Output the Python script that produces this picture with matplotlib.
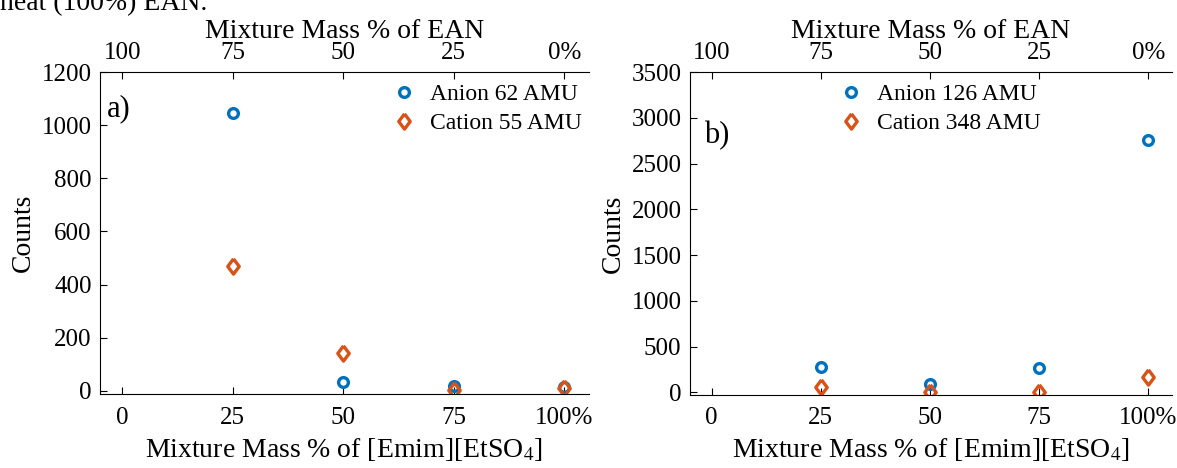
import matplotlib.pyplot as plt

plt.rcParams['font.family'] = ['Liberation Serif', 'DejaVu Serif']
plt.rcParams['mathtext.fontset'] = 'stix'

# mixture mass % of [Emim][EtSO4]
mix = [25, 50, 75, 100]
xticks = [0, 25, 50, 75, 100]
bottom_labels = ['0', '25', '50', '75', '100%']
top_labels = ['100', '75', '50', '25', '0%']

# panel a
anion62 = [1045, 35, 20, 15]
cation55 = [470, 142, 2, 10]
# panel b
anion126 = [280, 90, 260, 2760]
cation348 = [60, 5, 0, 165]

blue = '#0072BD'
orange = '#D95319'
# matlab-like diamond, a bit taller than wide
diamond = [(0, 1), (0.75, 0), (0, -1), (-0.75, 0), (0, 1)]

fig = plt.figure(figsize=(11.77, 4.68), dpi=100)
ax1 = fig.add_axes([0.085, 0.158, 0.415, 0.688])
ax2 = fig.add_axes([0.586, 0.156, 0.410, 0.690])

fig.text(0.0, 1.018, 'neat (100%) EAN.', fontsize=20, va='top', ha='left')


def style(ax, ylim, yticks, panel, px, py, leg_loc, leg_anchor):
    ax.set_xlim(-5, 105.5)
    ax.set_ylim(*ylim)
    ax.set_xticks(xticks)
    ax.set_xticklabels(bottom_labels)
    ax.set_yticks(yticks)
    ax.tick_params(direction='in', labelsize=18, length=5, width=0.8, pad=6)
    ax.tick_params(axis='x', pad=9)
    ax.spines['right'].set_visible(False)
    ax.spines['top'].set_visible(False)
    ax.set_xlabel('Mixture Mass % of [Emim][EtSO$_4$]', fontsize=20, labelpad=5)
    ax.set_ylabel('Counts', fontsize=20, labelpad=4)
    top = ax.secondary_xaxis('top')
    top.set_xticks(xticks)
    top.set_xticklabels(top_labels)
    top.tick_params(direction='in', labelsize=18, length=5, width=0.8, pad=6)
    top.set_xlabel('Mixture Mass % of EAN', fontsize=20, labelpad=3)
    ax.text(px, py, panel, transform=ax.transAxes, fontsize=22, va='top')
    leg = ax.legend(loc=leg_loc, bbox_to_anchor=leg_anchor, frameon=False,
                    fontsize=17, handletextpad=0.5, handlelength=1.2,
                    labelspacing=0.3, borderaxespad=0.1)
    return leg


ax1.plot(mix, anion62, linestyle='none', marker='o', markersize=7,
         markerfacecolor='none', markeredgecolor=blue, markeredgewidth=2.4,
         label='Anion 62 AMU')
ax1.plot(mix, cation55, linestyle='none', marker=diamond, markersize=11,
         markerfacecolor='none', markeredgecolor=orange, markeredgewidth=2.4,
         label='Cation 55 AMU')
style(ax1, (-12, 1200), [0, 200, 400, 600, 800, 1000, 1200], 'a)',
      0.015, 0.93, 'upper right', (1.01, 1.0))

ax2.plot(mix, anion126, linestyle='none', marker='o', markersize=7,
         markerfacecolor='none', markeredgecolor=blue, markeredgewidth=2.4,
         label='Anion 126 AMU')
ax2.plot(mix, cation348, linestyle='none', marker=diamond, markersize=11,
         markerfacecolor='none', markeredgecolor=orange, markeredgewidth=2.4,
         label='Cation 348 AMU')
style(ax2, (-30, 3500), [0, 500, 1000, 1500, 2000, 2500, 3000, 3500], 'b)',
      0.03, 0.85, 'upper left', (0.28, 1.0))

fig.savefig('out.png', dpi=100)
